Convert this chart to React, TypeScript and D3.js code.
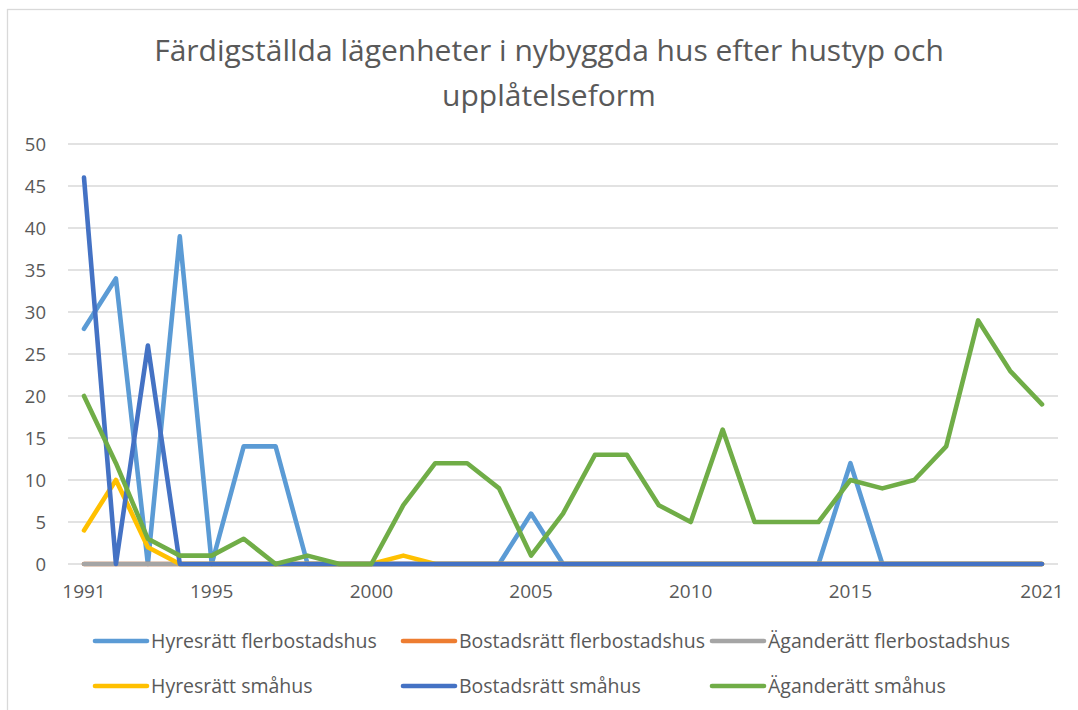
import { useEffect, useRef } from "react";
import * as d3 from "d3";

const years = d3.range(1991, 2022);
const xTickYears = [1991, 1995, 2000, 2005, 2010, 2015, 2021];
const yTicks = [0, 5, 10, 15, 20, 25, 30, 35, 40, 45, 50];

const seriesNames = [
  "Hyresrätt flerbostadshus",
  "Bostadsrätt flerbostadshus",
  "Äganderätt flerbostadshus",
  "Hyresrätt småhus",
  "Bostadsrätt småhus",
  "Äganderätt småhus",
];
const seriesColors = ["#5B9BD5", "#ED7D31", "#A5A5A5", "#FFC000", "#4472C4", "#70AD47"];

// 1991 .. 2021
const hyresFler = [28, 34, 0, 39, 0, 14, 14, 0, 0, 0, 0, 0, 0, 0, 6, 0, 0, 0, 0, 0, 0, 0, 0, 0, 12, 0, 0, 0, 0, 0, 0];
const bostadsFler = [0, 0, 0, 0, 0, 0, 0, 0, 0, 0, 0, 0, 0, 0, 0, 0, 0, 0, 0, 0, 0, 0, 0, 0, 0, 0, 0, 0, 0, 0, 0];
const aganderFler = [0, 0, 0, 0, 0, 0, 0, 0, 0, 0, 0, 0, 0, 0, 0, 0, 0, 0, 0, 0, 0, 0, 0, 0, 0, 0, 0, 0, 0, 0, 0];
const hyresSma = [4, 10, 2, 0, 0, 0, 0, 0, 0, 0, 1, 0, 0, 0, 0, 0, 0, 0, 0, 0, 0, 0, 0, 0, 0, 0, 0, 0, 0, 0, 0];
const bostadsSma = [46, 0, 26, 0, 0, 0, 0, 0, 0, 0, 0, 0, 0, 0, 0, 0, 0, 0, 0, 0, 0, 0, 0, 0, 0, 0, 0, 0, 0, 0, 0];
const aganderSma = [20, 12, 3, 1, 1, 3, 0, 1, 0, 0, 7, 12, 12, 9, 1, 6, 13, 13, 7, 5, 16, 5, 5, 5, 10, 9, 10, 14, 29, 23, 19];

const seriesValues = [hyresFler, bostadsFler, aganderFler, hyresSma, bostadsSma, aganderSma];

const W = 1078;
const H = 710;
const textColor = "#595959";
const font = "'Open Sans', 'DejaVu Sans', sans-serif";

export default function App() {
  const ref = useRef<SVGSVGElement>(null);

  useEffect(() => {
    const svg = d3.select(ref.current);
    svg.selectAll("*").remove();

    svg
      .append("rect")
      .attr("width", W)
      .attr("height", H)
      .attr("fill", "#fff");

    svg
      .append("rect")
      .attr("x", 7.5)
      .attr("y", 9.5)
      .attr("width", W + 20)
      .attr("height", H + 20)
      .attr("fill", "none")
      .attr("stroke", "#d9d9d9")
      .attr("stroke-width", 1.3);

    const x = d3.scalePoint<number>().domain(years).range([84, 1042]);
    const y = d3.scaleLinear().domain([0, 50]).range([564, 144]);

    // title
    const title = svg
      .append("text")
      .attr("text-anchor", "middle")
      .attr("fill", textColor)
      .attr("font-family", font)
      .attr("font-size", 30);
    title.append("tspan").attr("x", 549).attr("y", 61).text("Färdigställda lägenheter i nybyggda hus efter hustyp och");
    title.append("tspan").attr("x", 549).attr("y", 106).text("upplåtelseform");

    // gridlines
    svg
      .append("g")
      .selectAll("line")
      .data(yTicks)
      .join("line")
      .attr("x1", 68)
      .attr("x2", 1058)
      .attr("y1", (d) => y(d))
      .attr("y2", (d) => y(d))
      .attr("stroke", "#d9d9d9")
      .attr("stroke-width", 1.3);

    // y labels
    svg
      .append("g")
      .selectAll("text")
      .data(yTicks)
      .join("text")
      .attr("x", 46)
      .attr("y", (d) => y(d))
      .attr("dy", "0.36em")
      .attr("text-anchor", "end")
      .attr("fill", textColor)
      .attr("font-family", font)
      .attr("font-size", 18.5)
      .text((d) => d);

    // x labels
    svg
      .append("g")
      .selectAll("text")
      .data(xTickYears)
      .join("text")
      .attr("x", (d) => x(d)!)
      .attr("y", 598)
      .attr("text-anchor", "middle")
      .attr("fill", textColor)
      .attr("font-family", font)
      .attr("font-size", 19)
      .text((d) => d);

    // lines
    const line = d3
      .line<number>()
      .x((_, i) => x(years[i])!)
      .y((d) => y(d));

    svg
      .append("g")
      .selectAll("path")
      .data(seriesValues)
      .join("path")
      .attr("d", (d) => line(d))
      .attr("fill", "none")
      .attr("stroke", (_, i) => seriesColors[i])
      .attr("stroke-width", 4.6)
      .attr("stroke-linejoin", "round")
      .attr("stroke-linecap", "round");

    // legend
    const colX = [95, 403, 712];
    const rowY = [641, 686];
    const items = svg
      .append("g")
      .selectAll("g")
      .data(seriesNames)
      .join("g")
      .attr("transform", (_, i) => `translate(${colX[i % 3]},${rowY[Math.floor(i / 3)]})`);
    items
      .append("line")
      .attr("x1", 0)
      .attr("x2", 52)
      .attr("stroke", (_, i) => seriesColors[i])
      .attr("stroke-width", 4.6)
      .attr("stroke-linecap", "round");
    items
      .append("text")
      .attr("x", 56)
      .attr("dy", "0.35em")
      .attr("fill", textColor)
      .attr("font-family", font)
      .attr("font-size", 19.5)
      .text((d) => d);
  }, []);

  return (
    <svg
      ref={ref}
      width={W}
      height={H}
      viewBox={`0 0 ${W} ${H}`}
      style={{ position: "absolute", left: 0, top: 0, display: "block" }}
    />
  );
}
